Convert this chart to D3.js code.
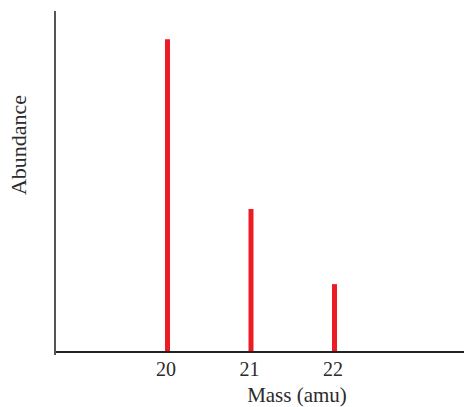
<!DOCTYPE html>
<html><head><meta charset="utf-8">
<script src="https://cdn.jsdelivr.net/npm/d3@7"></script>
<style>html,body{margin:0;padding:0;background:#fff;overflow:hidden}</style>
</head><body>
<svg id="c" width="464" height="407"></svg>
<script>
const masses = [20, 21, 22];
const abundance = [100, 45.7, 21.7];
const tickLabels = ["20", "21", "22"];

const svg = d3.select("#c");
const x = d3.scaleLinear().domain([20, 22]).range([167.5, 334.5]);
const y = d3.scaleLinear().domain([0, 109]).range([352, 11]);
const serif = "Liberation Serif, Times New Roman, serif";

// bars
svg.selectAll("line.bar").data(masses).enter().append("line")
  .attr("class", "bar")
  .attr("x1", d => x(d)).attr("x2", d => x(d))
  .attr("y1", y(0)).attr("y2", (d, i) => y(abundance[i]))
  .attr("stroke", "#ed1c24").attr("stroke-width", 5);

// x axis
const xAxis = d3.axisBottom(x).tickValues(masses).tickFormat((d, i) => tickLabels[i]).tickSize(0).tickPadding(10);
const gx = svg.append("g").attr("transform", `translate(0,${y(0)})`).call(xAxis);
gx.select(".domain").remove();
gx.attr("font-family", serif).attr("font-size", 20);
gx.selectAll("text").attr("fill", "#2b2b2b").attr("dx", "-0.1em");
svg.append("line").attr("x1", 55).attr("x2", 464).attr("y1", y(0)).attr("y2", y(0)).attr("stroke", "#222").attr("stroke-width", 2);

// y axis
svg.append("line").attr("x1", 55).attr("x2", 55).attr("y1", y(109)).attr("y2", y(0) + 3).attr("stroke", "#555").attr("stroke-width", 2);

svg.append("text").attr("x", 297).attr("y", 402).attr("text-anchor", "middle")
  .attr("font-family", serif).attr("font-size", 21).attr("fill", "#2b2b2b").text("Mass (amu)");
svg.append("text").attr("transform", "translate(26,145) rotate(-90)").attr("text-anchor", "middle")
  .attr("font-family", serif).attr("font-size", 22).attr("fill", "#2b2b2b").text("Abundance");
</script>
</body></html>
